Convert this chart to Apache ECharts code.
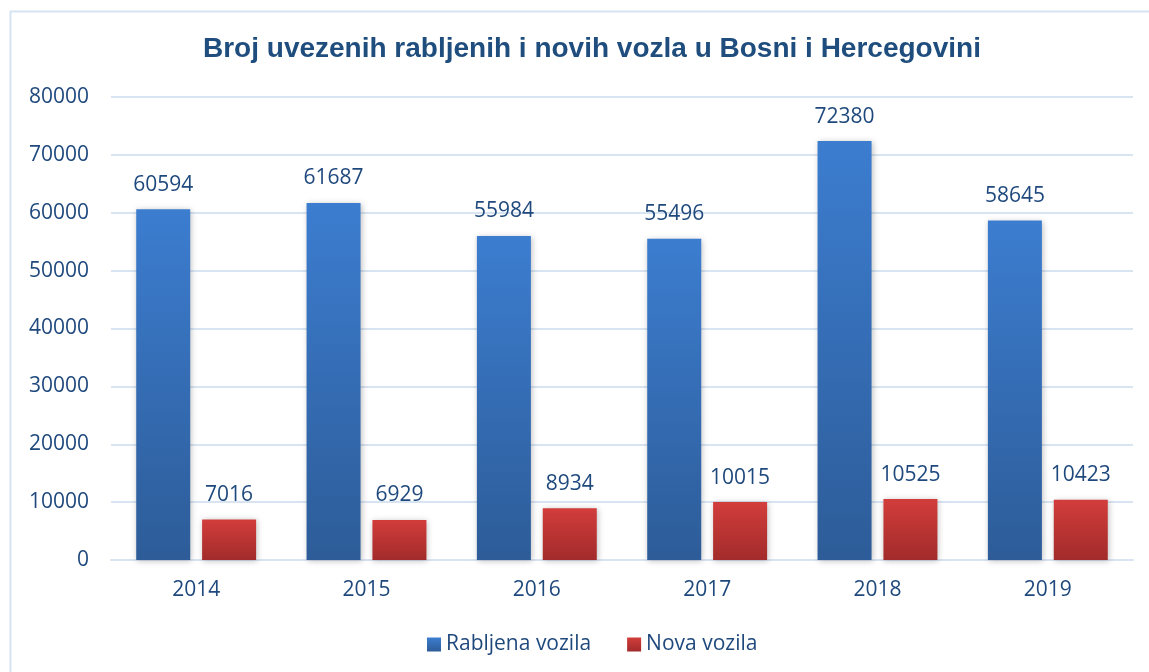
<!DOCTYPE html>
<html>
<head>
<meta charset="utf-8">
<script src="https://cdn.jsdelivr.net/npm/echarts@6/dist/echarts.min.js"></script>
<style>
  html, body { margin: 0; padding: 0; background: #fff; }
  #main { width: 1149px; height: 672px; }
</style>
</head>
<body>
<div id="main"></div>
<script>
var years = ['2014', '2015', '2016', '2017', '2018', '2019'];
var rabljena = [60594, 61687, 55984, 55496, 72380, 58645];
var nova = [7016, 6929, 8934, 10015, 10525, 10423];
var seriesNames = ['Rabljena vozila', 'Nova vozila'];

var textColor = '#1F497D';
var font = '"Open Sans", sans-serif';

var chart = echarts.init(document.getElementById('main'));

var labelStyle = {
  show: true,
  position: 'top',
  distance: 14,
  color: textColor,
  fontFamily: font,
  fontSize: 21
};

var option = {
  backgroundColor: '#fff',
  animation: false,
  title: {
    text: 'Broj uvezenih rabljenih i novih vozla u Bosni i Hercegovini',
    left: 198,
    top: 30,
    textStyle: {
      color: '#1F4E7E',
      fontFamily: '"Liberation Sans", Arial, sans-serif',
      fontWeight: 'bold',
      fontSize: 28
    }
  },
  graphic: [{
    type: 'rect',
    shape: { x: 10.5, y: 11.5, width: 1300, height: 800 },
    style: { fill: 'none', stroke: '#D6E3F3', lineWidth: 2 },
    silent: true
  }],
  legend: {
    bottom: 12,
    left: 422,
    itemWidth: 14,
    itemHeight: 14,
    itemGap: 36,
    icon: 'rect',
    textStyle: { color: textColor, fontFamily: font, fontSize: 21 },
    data: seriesNames
  },
  grid: {
    left: 111,
    right: 16,
    top: 97,
    bottom: 112
  },
  xAxis: {
    type: 'category',
    data: years,
    axisLine: { show: true, lineStyle: { color: '#D9E4F2', width: 2 } },
    axisTick: { show: false },
    axisLabel: { color: textColor, fontFamily: font, fontSize: 21, margin: 20 }
  },
  yAxis: {
    type: 'value',
    min: 0,
    max: 80000,
    interval: 10000,
    axisLine: { show: false },
    axisTick: { show: false },
    axisLabel: {
      color: textColor, fontFamily: font, fontSize: 21, margin: 22,
      formatter: function (v) { return String(v); }
    },
    splitLine: { lineStyle: { color: '#D9E4F2', width: 2 } }
  },
  series: [{
    name: seriesNames[0],
    type: 'bar',
    data: rabljena,
    barWidth: 54,
    barGap: '22%',
    itemStyle: {
      color: new echarts.graphic.LinearGradient(0, 0, 0, 1, [
        { offset: 0, color: '#3C7DD0' },
        { offset: 1, color: '#2D5C98' }
      ]),
      shadowColor: 'rgba(0,0,0,0.25)',
      shadowBlur: 6,
      shadowOffsetX: 1,
      shadowOffsetY: 1
    },
    label: labelStyle
  }, {
    name: seriesNames[1],
    type: 'bar',
    data: nova,
    barWidth: 54,
    itemStyle: {
      color: new echarts.graphic.LinearGradient(0, 0, 0, 1, [
        { offset: 0, color: '#D23D3B' },
        { offset: 1, color: '#A22B2B' }
      ]),
      shadowColor: 'rgba(0,0,0,0.25)',
      shadowBlur: 6,
      shadowOffsetX: 1,
      shadowOffsetY: 1
    },
    label: labelStyle
  }]
};

chart.setOption(option);
</script>
</body>
</html>
